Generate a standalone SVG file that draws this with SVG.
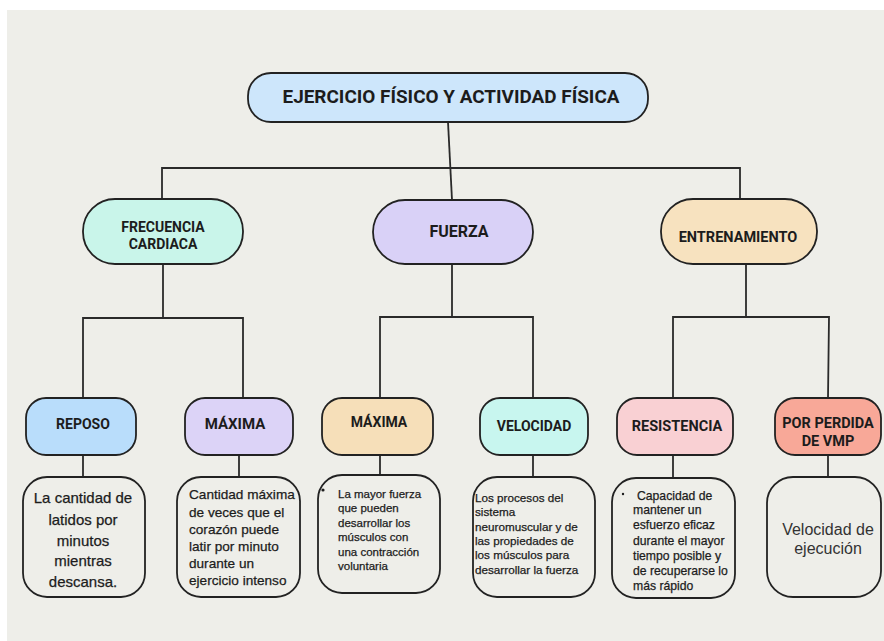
<svg xmlns="http://www.w3.org/2000/svg" width="884" height="641" viewBox="0 0 884 641">
<style>
.box{stroke:#222;stroke-width:1.8}
.desc{fill:none;stroke:#222;stroke-width:1.8}
.lbl{font-family:Roboto,"Liberation Sans",sans-serif;font-weight:bold;fill:#1c1c1c;text-anchor:middle}
.t{font-family:"Liberation Sans",Arial,sans-serif;fill:#1c1c1c;stroke:#1c1c1c;stroke-width:0.25}
.tc{text-anchor:middle}
.conn line,.conn polyline{stroke:#2a2a2a;stroke-width:1.8;fill:none}
</style>
<rect x="0" y="0" width="884" height="641" fill="#ffffff"/>
<rect x="7" y="10" width="877" height="631" fill="#eeeee9"/>

<g class="conn" id="connectors">
<line x1="448" y1="122" x2="452" y2="200"/>
<polyline points="162,200 162,168 740,168 740,200"/>
<line x1="163" y1="264" x2="163" y2="318"/>
<polyline points="83,398 83,318 243,318 243,398"/>
<line x1="452" y1="264" x2="452" y2="317"/>
<polyline points="380,398 380,317 533,317 533,398"/>
<line x1="746" y1="264" x2="746" y2="317"/>
<polyline points="673,398 673,317 829,317 828,398"/>
<line x1="83" y1="455" x2="83" y2="477"/>
<line x1="239" y1="455" x2="239" y2="477"/>
<line x1="380" y1="455" x2="380" y2="475"/>
<line x1="533" y1="455" x2="533" y2="477"/>
<line x1="673" y1="455" x2="673" y2="478"/>
<line x1="828" y1="455" x2="828" y2="477"/>
</g>

<g id="title">
<rect class="box" x="248" y="73" width="400" height="49" rx="23" fill="#cde6fb"/>
<text class="lbl" x="451" y="103" font-size="18.5" textLength="337" lengthAdjust="spacingAndGlyphs">EJERCICIO FÍSICO Y ACTIVIDAD FÍSICA</text>
</g>

<g id="frecuencia">
<rect class="box" x="83" y="199" width="160" height="65" rx="32" fill="#c9f5ea"/>
<text class="lbl" x="163" y="232" font-size="14">FRECUENCIA</text>
<text class="lbl" x="163" y="249" font-size="14">CARDIACA</text>
</g>

<g id="fuerza">
<rect class="box" x="373" y="200" width="160" height="64" rx="32" fill="#d9d1f7"/>
<text class="lbl" x="459" y="237" font-size="16">FUERZA</text>
</g>

<g id="entrenamiento">
<rect class="box" x="661" y="199" width="156" height="65" rx="32" fill="#f7e2bf"/>
<text class="lbl" x="738" y="242" font-size="14.5">ENTRENAMIENTO</text>
</g>

<g id="reposo">
<rect class="box" x="26" y="398" width="110" height="57" rx="20" fill="#b9ddfb"/>
<text class="lbl" x="83" y="429" font-size="14">REPOSO</text>
</g>

<g id="maxima-fc">
<rect class="box" x="185" y="398" width="108" height="57" rx="20" fill="#dcd3f7"/>
<text class="lbl" x="235" y="429" font-size="15">MÁXIMA</text>
</g>

<g id="maxima-f">
<rect class="box" x="322" y="398" width="111" height="57" rx="20" fill="#f6dfb9"/>
<text class="lbl" x="379" y="427" font-size="14">MÁXIMA</text>
</g>

<g id="velocidad">
<rect class="box" x="480" y="398" width="108" height="57" rx="20" fill="#c8f6ef"/>
<text class="lbl" x="534" y="431" font-size="14">VELOCIDAD</text>
</g>

<g id="resistencia">
<rect class="box" x="617" y="398" width="116" height="57" rx="20" fill="#f9d0d3"/>
<text class="lbl" x="677" y="431" font-size="14.5">RESISTENCIA</text>
</g>

<g id="vmp">
<rect class="box" x="775" y="398" width="106" height="57" rx="20" fill="#f8a898"/>
<text class="lbl" x="828" y="428" font-size="14.5">POR PERDIDA</text>
<text class="lbl" x="828" y="446" font-size="14.5">DE VMP</text>
</g>

<g id="desc-reposo">
<rect class="desc" x="23" y="477" width="122" height="120" rx="24"/>
<text class="t tc" font-size="15" x="83"><tspan x="83" y="503">La cantidad de</tspan><tspan x="83" y="525">latidos por</tspan><tspan x="83" y="546">minutos</tspan><tspan x="83" y="566">mientras</tspan><tspan x="83" y="587">descansa.</tspan></text>
</g>

<g id="desc-maxima-fc">
<rect class="desc" x="177" y="477" width="123" height="120" rx="24"/>
<text class="t" font-size="13.6"><tspan x="189" y="499">Cantidad máxima</tspan><tspan x="189" y="517">de veces que el</tspan><tspan x="189" y="534">corazón puede</tspan><tspan x="189" y="551">latir por minuto</tspan><tspan x="189" y="568">durante un</tspan><tspan x="189" y="585">ejercicio intenso</tspan></text>
</g>

<g id="desc-maxima-f">
<rect class="desc" x="318" y="475" width="122" height="118" rx="24"/>
<circle cx="323" cy="490" r="1.6" fill="#1c1c1c"/>
<text class="t" font-size="11.5"><tspan x="338" y="498">La mayor fuerza</tspan><tspan x="338" y="512">que pueden</tspan><tspan x="338" y="527">desarrollar los</tspan><tspan x="338" y="541">músculos con</tspan><tspan x="338" y="556">una contracción</tspan><tspan x="338" y="570">voluntaria</tspan></text>
</g>

<g id="desc-velocidad">
<rect class="desc" x="473" y="477" width="122" height="120" rx="24"/>
<text class="t" font-size="11.7"><tspan x="475" y="502">Los procesos del</tspan><tspan x="475" y="516">sistema</tspan><tspan x="475" y="531">neuromuscular y de</tspan><tspan x="475" y="545">las propiedades de</tspan><tspan x="475" y="559">los músculos para</tspan><tspan x="475" y="574">desarrollar la fuerza</tspan></text>
</g>

<g id="desc-resistencia">
<rect class="desc" x="612" y="478" width="123" height="120" rx="24"/>
<circle cx="623" cy="494" r="1.2" fill="#1c1c1c"/>
<text class="t" font-size="12.2"><tspan x="637" y="500">Capacidad de</tspan><tspan x="633" y="514">mantener un</tspan><tspan x="633" y="529">esfuerzo eficaz</tspan><tspan x="633" y="545">durante el mayor</tspan><tspan x="633" y="560">tiempo posible y</tspan><tspan x="633" y="575">de recuperarse lo</tspan><tspan x="633" y="590">más rápido</tspan></text>
</g>

<g id="desc-vmp">
<rect class="desc" x="767" y="477" width="114" height="120" rx="26"/>
<text font-family="'Liberation Sans',Arial,sans-serif" font-size="16" fill="#333" text-anchor="middle"><tspan x="828" y="535">Velocidad de</tspan><tspan x="828" y="554">ejecución</tspan></text>
</g>
</svg>
